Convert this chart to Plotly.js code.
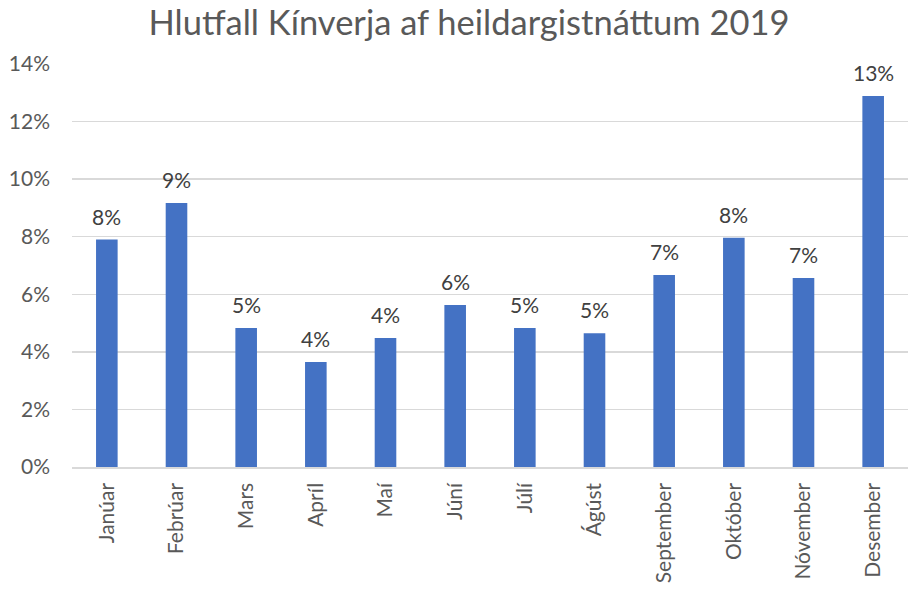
<!DOCTYPE html>
<html>
<head>
<meta charset="utf-8">
<script src="https://cdn.plot.ly/plotly-3.0.1.min.js"></script>
<style>html,body{margin:0;padding:0;background:#fff;}#chart{width:909px;height:591px;}</style>
</head>
<body>
<div id="chart"></div>
<script>
const months = ["Janúar","Febrúar","Mars","Apríl","Maí","Júní","Júlí","Ágúst","September","Október","Nóvember","Desember"];
const shares = [0.079,0.0917,0.0483,0.0365,0.0448,0.0563,0.0483,0.0465,0.0667,0.0796,0.0657,0.1289];
const yTicks = [0,0.02,0.04,0.06,0.08,0.10,0.12,0.14];

const trace = {
  type: 'bar',
  x: months,
  y: shares,
  marker: {color: '#4472C4'},
  hoverinfo: 'none'
};

const annotations = months.map((m, i) => ({
  x: m, y: shares[i], xref: 'x', yref: 'y',
  text: Math.round(shares[i] * 100) + '%',
  showarrow: false, yanchor: 'bottom', yshift: 9,
  font: {family: 'Lato, sans-serif', size: 21, color: '#404040'}
}));

const layout = {
  width: 909, height: 591,
  margin: {l: 72, r: 1, t: 64, b: 124},
  paper_bgcolor: '#fff', plot_bgcolor: '#fff',
  bargap: 0.69,
  showlegend: false,
  annotations: annotations,
  font: {family: 'Lato, sans-serif', color: '#595959'},
  title: {text: 'Hlutfall Kínverja af heildargistnáttum 2019', x: 0.516, xanchor: 'center', y: 0.962, yanchor: 'middle',
          font: {family: 'Lato, sans-serif', size: 34.5, color: '#595959'}},
  xaxis: {
    tickangle: -90,
    tickfont: {size: 21, color: '#595959'},
    showline: true, linecolor: '#d9d9d9', linewidth: 1.5,
    ticks: '', ticklabelstandoff: 6,
    fixedrange: true
  },
  yaxis: {
    range: [0, 0.14],
    tickvals: yTicks,
    tickformat: '.0%',
    tickfont: {size: 21, color: '#595959'},
    gridcolor: '#d9d9d9', gridwidth: 1.5,
    zeroline: false,
    ticks: '', ticklabelstandoff: 21,
    fixedrange: true
  }
};

Plotly.newPlot('chart', [trace], layout, {displayModeBar: false, staticPlot: true});
</script>
</body>
</html>
